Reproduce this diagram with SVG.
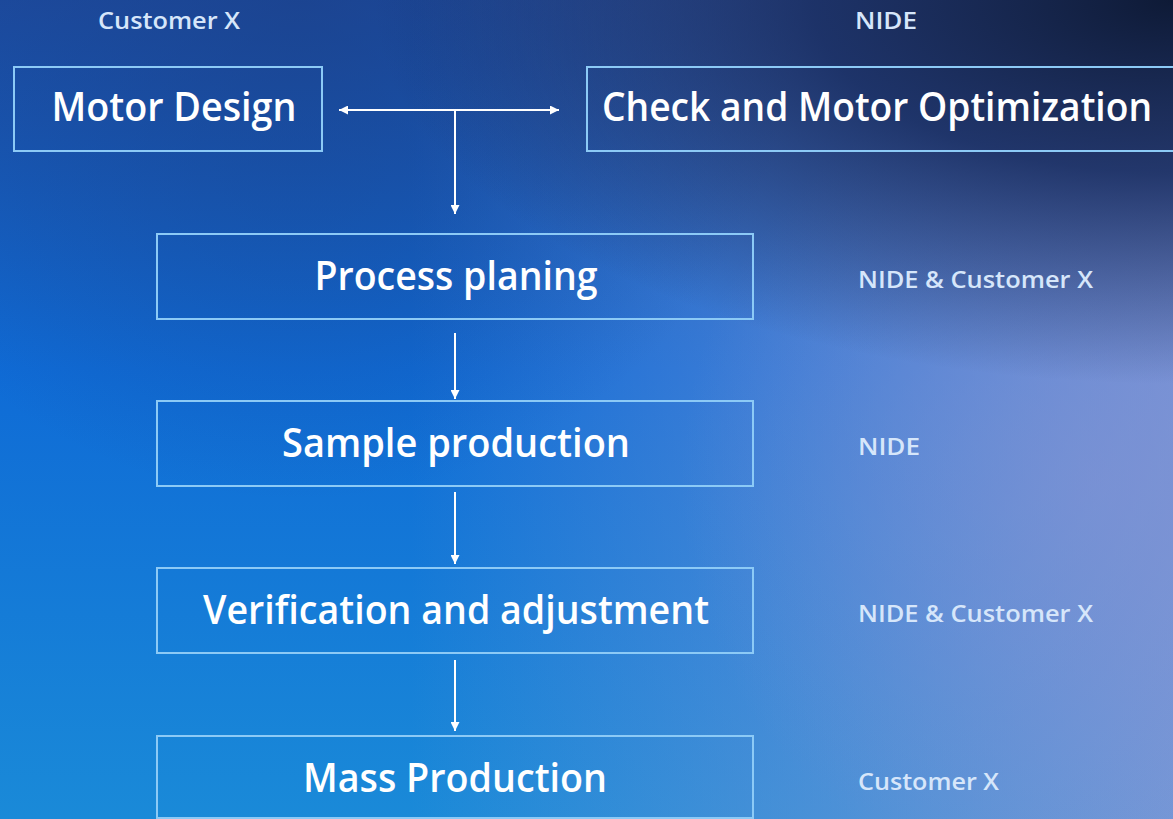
<svg xmlns="http://www.w3.org/2000/svg" width="1173" height="819" viewBox="0 0 1173 819">
<defs>
<linearGradient id="bgv" x1="0" y1="0" x2="0" y2="1">
<stop offset="0" stop-color="#1c4ca2"/>
<stop offset="0.45" stop-color="#0f6bd6"/>
<stop offset="1" stop-color="#1a8ad8"/>
</linearGradient>
<linearGradient id="bgh" x1="0" y1="0" x2="1" y2="0">
<stop offset="0.35" stop-color="#8a9ad6" stop-opacity="0"/>
<stop offset="1" stop-color="#8a9ad6" stop-opacity="0.8"/>
</linearGradient>
<radialGradient id="lav" cx="1100" cy="480" r="420" gradientUnits="userSpaceOnUse">
<stop offset="0" stop-color="#8593d2" stop-opacity="0.55"/>
<stop offset="1" stop-color="#8593d2" stop-opacity="0"/>
</radialGradient>
<radialGradient id="dark" cx="1173" cy="0" r="800" gradientUnits="userSpaceOnUse" gradientTransform="translate(1173 0) scale(1 0.48) translate(-1173 0)">
<stop offset="0" stop-color="#0e1a36" stop-opacity="1"/>
<stop offset="0.45" stop-color="#15285a" stop-opacity="0.85"/>
<stop offset="1" stop-color="#15285a" stop-opacity="0"/>
</radialGradient>
<radialGradient id="darkL" cx="300" cy="0" r="500" gradientUnits="userSpaceOnUse">
<stop offset="0" stop-color="#1b3f86" stop-opacity="0.6"/>
<stop offset="1" stop-color="#1b3f86" stop-opacity="0"/>
</radialGradient>
<marker id="ah" viewBox="0 0 10 10" refX="10" refY="5" markerWidth="9" markerHeight="9" markerUnits="userSpaceOnUse" orient="auto-start-reverse">
<path d="M0,0 L10,5 L0,10 z" fill="#ffffff"/>
</marker>
<style>
.box{fill:none;stroke:#8ccaf6;stroke-width:2}
.t{font-family:"Open Sans","Noto Sans",sans-serif;font-weight:600;font-size:40px;fill:#ffffff;text-anchor:middle}
.s{font-family:"Open Sans","Noto Sans",sans-serif;font-weight:600;font-size:23px;fill:#d6e6fa}
.c{stroke:#ffffff;stroke-width:2;fill:none}
</style>
</defs>
<rect width="1173" height="819" fill="url(#bgv)"/>
<rect width="1173" height="819" fill="url(#bgh)"/>
<rect width="1173" height="819" fill="url(#lav)"/>
<rect width="1173" height="819" fill="url(#darkL)"/>
<rect width="1173" height="819" fill="url(#dark)"/>

<text class="s" x="98" y="29" textLength="142" lengthAdjust="spacingAndGlyphs">Customer X</text>
<text class="s" x="855" y="29" textLength="62" lengthAdjust="spacingAndGlyphs">NIDE</text>

<g id="motor-design">
<rect class="box" x="14" y="67" width="308" height="84"/>
<text class="t" x="174" y="121" textLength="245" lengthAdjust="spacingAndGlyphs">Motor Design</text>
</g>
<g id="check-optimization">
<path class="box" d="M1173,67 H587 V151 H1173"/>
<text class="t" x="877" y="121" textLength="550" lengthAdjust="spacingAndGlyphs">Check and Motor Optimization</text>
</g>
<g id="process-planing">
<rect class="box" x="157" y="234" width="596" height="85"/>
<text class="t" x="456" y="290" textLength="283" lengthAdjust="spacingAndGlyphs">Process planing</text>
<text class="s" x="858" y="288" textLength="235" lengthAdjust="spacingAndGlyphs">NIDE &amp; Customer X</text>
</g>
<g id="sample-production">
<rect class="box" x="157" y="401" width="596" height="85"/>
<text class="t" x="456" y="457" textLength="348" lengthAdjust="spacingAndGlyphs">Sample production</text>
<text class="s" x="858" y="455" textLength="62" lengthAdjust="spacingAndGlyphs">NIDE</text>
</g>
<g id="verification">
<rect class="box" x="157" y="568" width="596" height="85"/>
<text class="t" x="456" y="624" textLength="506" lengthAdjust="spacingAndGlyphs">Verification and adjustment</text>
<text class="s" x="858" y="622" textLength="235" lengthAdjust="spacingAndGlyphs">NIDE &amp; Customer X</text>
</g>
<g id="mass-production">
<rect class="box" x="157" y="736" width="596" height="82"/>
<text class="t" x="455" y="792" textLength="304" lengthAdjust="spacingAndGlyphs">Mass Production</text>
<text class="s" x="858" y="790" textLength="141" lengthAdjust="spacingAndGlyphs">Customer X</text>
</g>

<g id="connectors">
<line class="c" x1="339" y1="110" x2="559" y2="110" marker-start="url(#ah)" marker-end="url(#ah)"/>
<line class="c" x1="455" y1="110" x2="455" y2="214" marker-end="url(#ah)"/>
<line class="c" x1="455" y1="333" x2="455" y2="399" marker-end="url(#ah)"/>
<line class="c" x1="455" y1="492" x2="455" y2="564" marker-end="url(#ah)"/>
<line class="c" x1="455" y1="660" x2="455" y2="731" marker-end="url(#ah)"/>
</g>
</svg>
